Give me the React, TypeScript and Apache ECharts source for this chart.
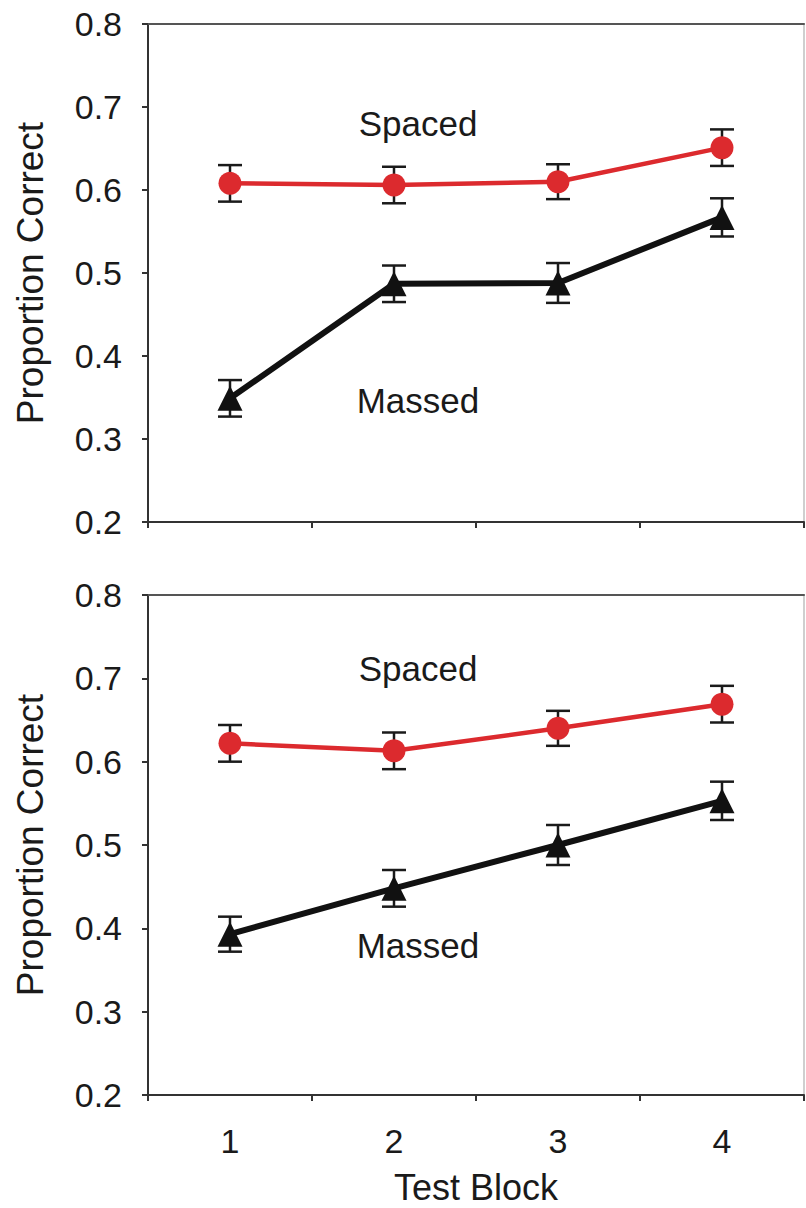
import React, { useEffect, useRef } from "react";
import * as echarts from "echarts";

const categories = ["1", "2", "3", "4"];
const yTicks = [0.2, 0.3, 0.4, 0.5, 0.6, 0.7, 0.8];

const topSpaced = [0.608, 0.606, 0.61, 0.651];
const topSpacedErr = [0.022, 0.022, 0.021, 0.022];
const topMassed = [0.349, 0.487, 0.488, 0.567];
const topMassedErr = [0.022, 0.022, 0.024, 0.023];

const bottomSpaced = [0.622, 0.613, 0.64, 0.669];
const bottomSpacedErr = [0.022, 0.022, 0.021, 0.022];
const bottomMassed = [0.393, 0.448, 0.5, 0.553];
const bottomMassedErr = [0.021, 0.022, 0.024, 0.023];

const annotations = ["Spaced", "Massed"];
const yAxisName = "Proportion Correct";
const xAxisName = "Test Block";

const FONT = "'Liberation Sans', Arial, Helvetica, sans-serif";
const RED = "#dc2a2e";
const BLACK = "#111111";
const TEXT = "#1a1a1a";

function errData(vals: number[], errs: number[]) {
  return vals.map((v, i) => [i, v - errs[i], v + errs[i]]);
}

function errorSeries(xi: number, yi: number, vals: number[], errs: number[]) {
  return {
    type: "custom",
    xAxisIndex: xi,
    yAxisIndex: yi,
    z: 3,
    silent: true,
    data: errData(vals, errs),
    renderItem: (params: any, api: any) => {
      const x = api.value(0);
      const lo = api.coord([x, api.value(1)]);
      const hi = api.coord([x, api.value(2)]);
      const half = 12;
      const style = { stroke: "#1a1a1a", lineWidth: 2.5 };
      return {
        type: "group",
        children: [
          { type: "line", shape: { x1: lo[0], y1: lo[1], x2: hi[0], y2: hi[1] }, style },
          { type: "line", shape: { x1: lo[0] - half, y1: lo[1], x2: lo[0] + half, y2: lo[1] }, style },
          { type: "line", shape: { x1: hi[0] - half, y1: hi[1], x2: hi[0] + half, y2: hi[1] }, style },
        ],
      };
    },
  };
}

function lineSeries(xi: number, yi: number, vals: number[], color: string, symbol: string, size: number, width: number) {
  return {
    type: "line",
    xAxisIndex: xi,
    yAxisIndex: yi,
    z: 4,
    data: vals,
    symbol,
    symbolSize: size,
    lineStyle: { color, width },
    itemStyle: { color },
  };
}

function yAxes(gi: number) {
  return [
    {
      type: "value",
      gridIndex: gi,
      min: 0.2,
      max: 0.8,
      interval: 0.1,
      position: "left",
      name: yAxisName,
      nameLocation: "middle",
      nameGap: 99,
      nameRotate: 90,
      nameTextStyle: { fontFamily: FONT, fontSize: 37, color: TEXT },
      axisLine: { show: true, lineStyle: { color: "#333", width: 2 } },
      axisTick: { show: true, length: 6, lineStyle: { color: "#333", width: 2 } },
      axisLabel: {
        margin: 26,
        fontFamily: FONT,
        fontSize: 34,
        color: TEXT,
        formatter: (v: number) => {
          const t = yTicks.find((k) => Math.abs(k - v) < 1e-6);
          return t !== undefined ? t.toFixed(1) : "";
        },
      },
      splitLine: { show: false },
    },
    {
      type: "value",
      gridIndex: gi,
      min: 0.2,
      max: 0.8,
      interval: 0.1,
      position: "right",
      axisLine: { show: true, lineStyle: { color: "#cfcfcf", width: 2 } },
      axisTick: { show: false },
      axisLabel: { show: false },
      splitLine: { show: false },
    },
  ];
}

function xAxes(gi: number, showLabels: boolean) {
  return [
    {
      type: "category",
      gridIndex: gi,
      data: categories,
      boundaryGap: true,
      position: "bottom",
      name: showLabels ? xAxisName : "",
      nameLocation: "middle",
      nameGap: 74,
      nameTextStyle: { fontFamily: FONT, fontSize: 36, color: TEXT },
      axisLine: { show: true, lineStyle: { color: "#333", width: 2 } },
      axisTick: { show: true, length: 6, lineStyle: { color: "#333", width: 2 } },
      axisLabel: { show: showLabels, margin: 29, fontFamily: FONT, fontSize: 34, color: TEXT },
      splitLine: { show: false },
    },
    {
      type: "category",
      gridIndex: gi,
      data: categories,
      boundaryGap: true,
      position: "top",
      axisLine: { show: true, lineStyle: { color: "#555", width: 2 } },
      axisTick: { show: false },
      axisLabel: { show: false },
      splitLine: { show: false },
    },
  ];
}

export default function App() {
  const ref = useRef<HTMLDivElement>(null);
  useEffect(() => {
    if (!ref.current) return;
    const chart = echarts.init(ref.current, undefined, { renderer: "svg" });
    const annStyle = { fontFamily: FONT, fontSize: 35, fill: TEXT, textAlign: "center", textVerticalAlign: "middle" };
    chart.setOption({
      animation: false,
      backgroundColor: "#ffffff",
      grid: [
        { left: 148, top: 24, width: 656, height: 498 },
        { left: 148, top: 595, width: 656, height: 500 },
      ],
      xAxis: [...xAxes(0, false), ...xAxes(1, true)],
      yAxis: [...yAxes(0), ...yAxes(1)],
      series: [
        errorSeries(0, 0, topSpaced, topSpacedErr),
        errorSeries(0, 0, topMassed, topMassedErr),
        lineSeries(0, 0, topSpaced, RED, "circle", 23, 4.5),
        lineSeries(0, 0, topMassed, BLACK, "triangle", 25, 6),
        errorSeries(2, 2, bottomSpaced, bottomSpacedErr),
        errorSeries(2, 2, bottomMassed, bottomMassedErr),
        lineSeries(2, 2, bottomSpaced, RED, "circle", 23, 4.5),
        lineSeries(2, 2, bottomMassed, BLACK, "triangle", 25, 6),
      ],
      graphic: [
        { type: "text", x: 418, y: 123, style: { ...annStyle, text: annotations[0] } },
        { type: "text", x: 418, y: 400, style: { ...annStyle, text: annotations[1] } },
        { type: "text", x: 418, y: 668, style: { ...annStyle, text: annotations[0] } },
        { type: "text", x: 418, y: 945, style: { ...annStyle, text: annotations[1] } },
      ],
    });
    return () => chart.dispose();
  }, []);
  return (
    <div
      ref={ref}
      style={{ position: "absolute", left: 0, top: 0, width: 806, height: 1208, background: "#fff" }}
    />
  );
}
